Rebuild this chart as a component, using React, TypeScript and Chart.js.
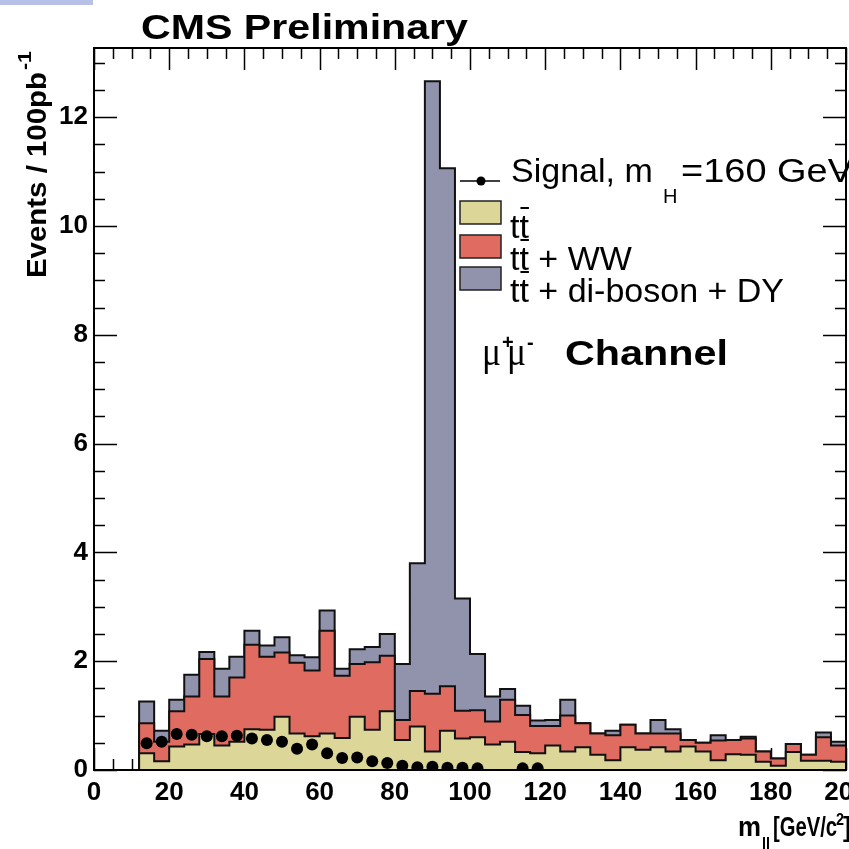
import React, { useEffect, useRef } from "react";
import { Chart, registerables } from "chart.js";

Chart.register(...registerables);

// ---- data ----
const binLowEdges = [12, 16, 20, 24, 28, 32, 36, 40, 44, 48, 52, 56, 60, 64, 68, 72, 76, 80, 84, 88, 92, 96, 100, 104, 108, 112, 116, 120, 124, 128, 132, 136, 140, 144, 148, 152, 156, 160, 164, 168, 172, 176, 180, 184, 188, 192, 196];
const binUpperEdge = 200;

const ttbar = [0.31, 0.16, 0.43, 0.47, 0.66, 0.45, 0.52, 0.75, 0.74, 0.98, 0.67, 0.62, 0.67, 0.59, 0.98, 0.74, 1.08, 0.55, 0.8, 0.34, 0.72, 0.58, 0.6, 0.47, 0.52, 0.33, 0.31, 0.45, 0.34, 0.42, 0.28, 0.18, 0.42, 0.37, 0.42, 0.34, 0.43, 0.34, 0.18, 0.29, 0.28, 0.15, 0.08, 0.33, 0.17, 0.17, 0.15];
const ttbarWW = [0.86, 0.52, 1.08, 1.35, 2.04, 1.35, 1.7, 2.3, 2.08, 2.16, 1.97, 1.83, 2.56, 1.73, 1.95, 1.98, 2.1, 0.92, 1.45, 1.4, 1.54, 1.09, 1.1, 0.89, 1.29, 1.01, 0.81, 0.81, 1.0, 0.86, 0.67, 0.64, 0.83, 0.67, 0.67, 0.67, 0.55, 0.5, 0.54, 0.55, 0.58, 0.34, 0.21, 0.48, 0.28, 0.6, 0.45];
const ttbarDibosonDY = [1.26, 0.72, 1.29, 1.75, 2.17, 1.86, 2.08, 2.56, 2.29, 2.44, 2.11, 2.07, 2.93, 1.86, 2.22, 2.26, 2.5, 1.95, 3.8, 12.66, 11.06, 3.15, 2.13, 1.35, 1.49, 1.18, 0.91, 0.92, 1.29, 0.86, 0.67, 0.72, 0.83, 0.67, 0.92, 0.75, 0.55, 0.5, 0.64, 0.55, 0.61, 0.34, 0.21, 0.48, 0.28, 0.69, 0.52];

const signalMass = [14, 18, 22, 26, 30, 34, 38, 42, 46, 50, 54, 58, 62, 66, 70, 74, 78, 82, 86, 90, 94, 98, 102, 114, 118];
const signalEvents = [0.49, 0.52, 0.66, 0.65, 0.62, 0.62, 0.63, 0.58, 0.55, 0.52, 0.39, 0.47, 0.31, 0.22, 0.23, 0.16, 0.13, 0.08, 0.05, 0.06, 0.04, 0.04, 0.03, 0.03, 0.03];

const xMin = 0;
const xMax = 200;
const yMin = 0;
const yMax = 13.27;
const xMajorStep = 20;
const xMinorStep = 5;
const yMajorStep = 2;
const yMinorStep = 0.5;

const COLOR_TT = "#dcd699";
const COLOR_WW = "#e06c61";
const COLOR_DY = "#9192ab";
const FONT = "Liberation Sans";

function histPoints(values: number[]) {
  const pts: { x: number; y: number }[] = [{ x: binLowEdges[0], y: 0 }];
  values.forEach((v, i) => pts.push({ x: binLowEdges[i], y: v }));
  pts.push({ x: binUpperEdge, y: values[values.length - 1] });
  pts.push({ x: binUpperEdge, y: 0 });
  return pts;
}

function txt(
  ctx: CanvasRenderingContext2D,
  s: string,
  x: number,
  y: number,
  size: number,
  opts: { bold?: boolean; width?: number; family?: string } = {}
) {
  ctx.save();
  ctx.font = `${opts.bold ? "bold " : ""}${size}px "${opts.family || FONT}"`;
  const w = ctx.measureText(s).width;
  const sx = opts.width ? opts.width / w : 1;
  ctx.translate(x, y);
  ctx.scale(sx, 1);
  ctx.textAlign = "left";
  ctx.textBaseline = "alphabetic";
  ctx.fillStyle = "#000";
  ctx.fillText(s, 0, 0);
  ctx.restore();
  return w * sx;
}

const decorPlugin = {
  id: "decor",
  beforeDatasetsDraw(chart: any) {
    const { ctx, chartArea, scales } = chart;
    const { left, right, top, bottom } = chartArea;
    const xs = scales.x;
    const ys = scales.y;
    ctx.save();
    ctx.strokeStyle = "#000";
    ctx.lineWidth = 1.5;
    ctx.beginPath();
    for (let v = xMin; v <= xMax + 1e-6; v += xMinorStep) {
      const px = Math.round(xs.getPixelForValue(v)) + 0.5;
      const len = Math.abs(v % xMajorStep) < 1e-6 ? 22 : 11;
      ctx.moveTo(px, bottom);
      ctx.lineTo(px, bottom - len);
      ctx.moveTo(px, top);
      ctx.lineTo(px, top + len);
    }
    for (let v = yMin; v <= yMax + 1e-6; v += yMinorStep) {
      const py = Math.round(ys.getPixelForValue(v)) + 0.5;
      const len = Math.abs(v % yMajorStep) < 1e-6 ? 23 : 11;
      ctx.moveTo(left, py);
      ctx.lineTo(left + len, py);
      ctx.moveTo(right, py);
      ctx.lineTo(right - len, py);
    }
    ctx.stroke();
    ctx.restore();
  },
  afterDatasetsDraw(chart: any) {
    const { ctx, chartArea } = chart;
    const { left, right, top, bottom } = chartArea;
    ctx.save();
    // frame
    ctx.strokeStyle = "#000";
    ctx.lineWidth = 2;
    ctx.strokeRect(left, top, right - left, bottom - top);

    // legend: signal
    ctx.lineWidth = 1.5;
    ctx.beginPath();
    ctx.moveTo(460, 181);
    ctx.lineTo(500, 181);
    ctx.stroke();
    ctx.fillStyle = "#000";
    ctx.beginPath();
    ctx.arc(481, 181, 4.5, 0, Math.PI * 2);
    ctx.fill();
    txt(ctx, "Signal, m", 511, 182, 34);
    txt(ctx, "H", 663, 203, 20);
    txt(ctx, "=160 GeV", 681, 182, 34, { width: 172 });

    // legend: boxes
    const rows = [
      { c: COLOR_TT, y0: 201, y1: 224, base: 238, rest: "" },
      { c: COLOR_WW, y0: 235, y1: 258, base: 270, rest: " + WW" },
      { c: COLOR_DY, y0: 267, y1: 290, base: 302, rest: " + di-boson + DY" },
    ];
    rows.forEach((r) => {
      ctx.fillStyle = r.c;
      ctx.fillRect(460, r.y0, 41, r.y1 - r.y0);
      ctx.strokeStyle = "#222";
      ctx.lineWidth = 1.5;
      ctx.strokeRect(460, r.y0, 41, r.y1 - r.y0);
      ctx.font = `34px "${FONT}"`;
      const tw = ctx.measureText("t").width;
      txt(ctx, "tt" + r.rest, 510, r.base, 34);
      ctx.fillStyle = "#000";
      ctx.fillRect(510 + tw + 1, r.base - 31, tw - 1, 2);
    });

    // channel label
    txt(ctx, "\u03bc", 482, 365, 40, { family: "Liberation Serif", width: 19 });
    txt(ctx, "+", 502, 349, 20, { bold: true });
    txt(ctx, "\u03bc", 507, 365, 40, { family: "Liberation Serif", width: 19 });
    txt(ctx, "-", 527, 349, 20, { bold: true });
    txt(ctx, "Channel", 565, 365, 35, { bold: true, width: 163 });
    ctx.restore();
  },
  afterDraw(chart: any) {
    const { ctx } = chart;
    ctx.save();
    // top-left strip
    ctx.fillStyle = "#b7c1e8";
    ctx.fillRect(0, 0, 93, 5);
    // title
    txt(ctx, "CMS Preliminary", 141, 39, 35, { bold: true, width: 327 });
    // y title
    ctx.save();
    ctx.translate(46, 278);
    ctx.rotate(-Math.PI / 2);
    const w = txt(ctx, "Events / 100pb", 0, 0, 27, { bold: true, width: 206 });
    txt(ctx, "-1", w + 2, -15, 18, { bold: true, width: 19 });
    ctx.restore();
    // x title
    txt(ctx, "m", 738, 836, 27, { bold: true, width: 23 });
    txt(ctx, "ll", 762, 849, 17, { bold: true, width: 8 });
    txt(ctx, "[GeV/c", 773, 836, 27, { bold: true, width: 64 });
    txt(ctx, "2", 836, 825, 16, { bold: true, width: 8 });
    txt(ctx, "]", 843, 836, 27, { bold: true, width: 8 });
    ctx.restore();
  },
};

export default function App() {
  const ref = useRef<HTMLCanvasElement | null>(null);
  useEffect(() => {
    if (!ref.current) return;
    const tickFont = { family: FONT, size: 26, weight: "bold" as const };
    const chart = new Chart(ref.current, {
      type: "line",
      data: {
        datasets: [
          {
            label: "Signal, mH=160 GeV",
            data: signalMass.map((m, i) => ({ x: m, y: signalEvents[i] })),
            showLine: false,
            pointRadius: 6,
            pointBackgroundColor: "#000",
            pointBorderColor: "#000",
            pointBorderWidth: 0,
          },
          {
            label: "tt",
            data: histPoints(ttbar),
            stepped: true,
            fill: "origin",
            backgroundColor: COLOR_TT,
            borderColor: "#111",
            borderWidth: 2,
            pointRadius: 0,
          },
          {
            label: "tt + WW",
            data: histPoints(ttbarWW),
            stepped: true,
            fill: "origin",
            backgroundColor: COLOR_WW,
            borderColor: "#111",
            borderWidth: 2,
            pointRadius: 0,
          },
          {
            label: "tt + di-boson + DY",
            data: histPoints(ttbarDibosonDY),
            stepped: true,
            fill: "origin",
            backgroundColor: COLOR_DY,
            borderColor: "#111",
            borderWidth: 2,
            pointRadius: 0,
          },
        ],
      },
      options: {
        animation: false,
        responsive: false,
        layout: { padding: { left: 0, top: 48, right: 3, bottom: 0 }, autoPadding: false } as any,
        plugins: { legend: { display: false }, tooltip: { enabled: false } },
        scales: {
          x: {
            type: "linear",
            min: xMin,
            max: xMax,
            ticks: { stepSize: xMajorStep, font: tickFont, color: "#000", padding: 7, maxRotation: 0, autoSkip: false, includeBounds: false } as any,
            grid: { display: false, drawTicks: false },
            border: { display: false },
            afterFit: (s: any) => {
              s.height = 79;
              s.paddingLeft = 0;
              s.paddingRight = 0;
            },
          },
          y: {
            type: "linear",
            min: yMin,
            max: yMax,
            ticks: { stepSize: yMajorStep, font: tickFont, color: "#000", padding: 6, includeBounds: false } as any,
            grid: { display: false, drawTicks: false },
            border: { display: false },
            afterFit: (s: any) => {
              s.width = 94;
              s.paddingTop = 0;
              s.paddingBottom = 0;
            },
          },
        },
      },
      plugins: [decorPlugin],
    });
    return () => chart.destroy();
  }, []);
  return (
    <div style={{ position: "absolute", left: 0, top: 0, width: 849, height: 849, background: "#fff" }}>
      <canvas ref={ref} width={849} height={849} />
    </div>
  );
}
